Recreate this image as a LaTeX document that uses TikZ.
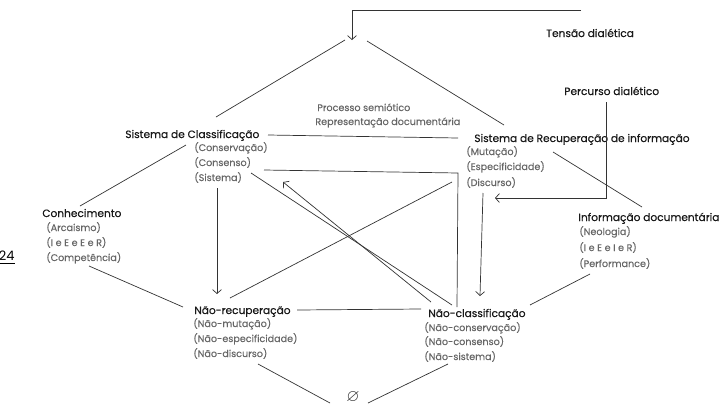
\documentclass[tikz,border=0pt]{standalone}
\usepackage{amssymb}
\usepackage{fontspec}
\setmainfont{Poppins}
\usetikzlibrary{arrows.meta}
\begin{document}
\begin{tikzpicture}[x=1pt,y=-1pt,
  line width=0.7pt,
  conn/.style={draw=black!80},
  arr/.style={conn,-{Straight Barb[length=4pt,width=9pt]}},
  head/.style={anchor=base west, inner sep=0pt, font=\fontsize{10.6}{12}\selectfont\addfontfeature{FakeBold=0.45}, text=black!90},
  sub/.style={anchor=base west, inner sep=0pt, font=\fontsize{9.6}{11}\selectfont\addfontfeature{FakeBold=0.15}, text=black!60}]
\useasboundingbox (0,0) rectangle (726,416);
% texts
\node[head] (tension) at (546,37) {Tensão dialética};
\node[head] (percurso) at (564,95) {Percurso dialético};
\node[sub] (proc) at (317,111) {Processo semiótico};
\node[sub] (repr) at (315,125) {Representação documentária};
\node[head] (sc) at (125,138) {Sistema de Classificação};
\node[sub] (sc1) at (194,151) {(Conservação)};
\node[sub] (sc2) at (194,166) {(Consenso)};
\node[sub] (sc3) at (194,181) {(Sistema)};
\node[head] (sri) at (474,142) {Sistema de Recuperação de informação};
\node[sub] (sri1) at (466,155) {(Mutação)};
\node[sub] (sri2) at (466,170) {(Especificidade)};
\node[sub] (sri3) at (466,186) {(Discurso)};
\node[head] (con) at (42,217) {Conhecimento};
\node[sub] (con1) at (46,231) {(Arcaismo)};
\node[sub] (con2) at (46,246) {(I e E e E e R)};
\node[sub] (con3) at (46,261) {(Competência)};
\node[head] (id) at (578,221) {Informação documentária};
\node[sub] (id1) at (579,235) {(Neologia)};
\node[sub] (id2) at (579,251) {(I e E e I e R)};
\node[sub] (id3) at (579,267) {(Performance)};
\node[head] (nr) at (194,314) {Não-recuperação};
\node[sub] (nr1) at (193,327) {(Não-mutação)};
\node[sub] (nr2) at (193,342) {(Não-especificidade)};
\node[sub] (nr3) at (193,357) {(Não-discurso)};
\node[head] (nc) at (428,317) {Não-classificação};
\node[sub] (nc1) at (424,331) {(Não-conservação)};
\node[sub] (nc2) at (424,345) {(Não-consenso)};
\node[sub] (nc3) at (424,360) {(Não-sistema)};
\node[inner sep=0pt, text=black!80, font=\fontsize{17}{17}\selectfont] (empty) at (353,397) {$\varnothing$};
\node[anchor=base east, inner sep=0pt, font=\fontsize{13}{13}\selectfont] (page) at (15,260) {24};
% coordinates
\coordinate (tR) at (581,10);
\coordinate (tC) at (352,10);
\coordinate (tA) at (352,40);
\coordinate (apL) at (345,40);
\coordinate (apR) at (367,41);
\coordinate (scTop) at (216,117);
\coordinate (sriTop) at (504,125);
\coordinate (scE) at (268,135);
\coordinate (sriW) at (458,138);
\coordinate (pcA) at (606,102);
\coordinate (pcB) at (606,198);
\coordinate (pcC) at (495,198);
\coordinate (sriE) at (553,152);
\coordinate (idN) at (642,207);
\coordinate (scSW) at (186,145);
\coordinate (conN) at (80,206);
\coordinate (conS) at (89,266);
\coordinate (nrW) at (183,307);
\coordinate (nrE) at (297,310);
\coordinate (ncW) at (421,309);
\coordinate (idS) at (590,274);
\coordinate (ncE) at (530,305);
\coordinate (nrS) at (258,364);
\coordinate (emL) at (330,403);
\coordinate (emR) at (368,403);
\coordinate (ncS) at (448,364);
\coordinate (sc3S) at (217,188);
\coordinate (nrN) at (217,294);
\coordinate (sri3S) at (483,193);
\coordinate (ncN) at (480,296);
\coordinate (sc2E) at (264,170);
\coordinate (bxC) at (458,173);
\coordinate (bxD) at (457,307);
\coordinate (dA) at (251,173);
\coordinate (dB) at (452,305);
\coordinate (aA) at (431,302);
\coordinate (aB) at (283,182);
\coordinate (xA) at (452,182);
\coordinate (xB) at (230,298);
\coordinate (ulA) at (0,263);
\coordinate (ulB) at (15,263);
% connectors
\draw[arr] (tR) -- (tC) -- (tA);
\draw[conn] (apL) -- (scTop);
\draw[conn] (apR) -- (sriTop);
\draw[conn] (scE) -- (sriW);
\draw[arr] (pcA) -- (pcB) -- (pcC);
\draw[conn] (sriE) -- (idN);
\draw[conn] (scSW) -- (conN);
\draw[conn] (conS) -- (nrW);
\draw[conn] (nrE) -- (ncW);
\draw[conn] (idS) -- (ncE);
\draw[conn] (nrS) -- (emL);
\draw[conn] (emR) -- (ncS);
\draw[arr] (sc3S) -- (nrN);
\draw[arr] (sri3S) -- (ncN);
\draw[conn] (sc2E) -- (bxC) -- (bxD);
\draw[conn] (dA) -- (dB);
\draw[arr] (aA) -- (aB);
\draw[conn] (xA) -- (xB);
\draw[line width=0.9pt] (ulA) -- (ulB);
\end{tikzpicture}
\end{document}
